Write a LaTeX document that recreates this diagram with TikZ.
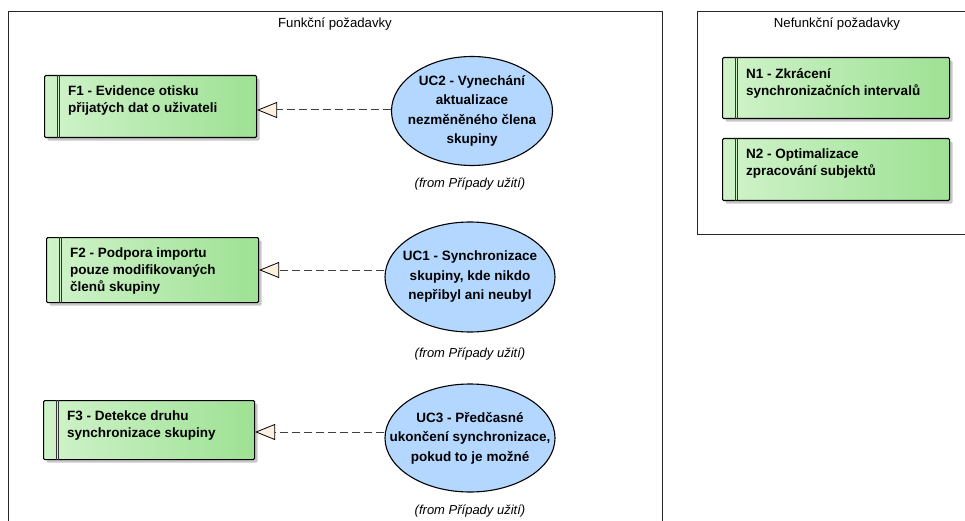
\documentclass[tikz,border=0pt]{standalone}
\usepackage{fontspec}
\setmainfont{Liberation Sans}
\usetikzlibrary{shapes.geometric,arrows.meta,shadows}
\definecolor{gA}{RGB}{208,243,202}
\definecolor{gB}{RGB}{158,225,148}
\definecolor{ucfill}{RGB}{180,215,255}
\definecolor{trifill}{RGB}{253,240,222}
\definecolor{dashcol}{RGB}{64,64,64}
\begin{document}
\begin{tikzpicture}[x=1pt,y=-1pt,
 frame/.style={draw=black!85, line width=0.9pt},
 titletxt/.style={font=\fontsize{13.2}{15}\selectfont, inner sep=0},
 reqbox/.style={draw=black, line width=1.1pt, rounded corners=1.2pt, left color=gA, right color=gB,
   drop shadow={shadow xshift=3pt,shadow yshift=-3pt,fill=black!22,opacity=1}, inner sep=0, anchor=north west},
 reqtext/.style={font=\bfseries\fontsize{13.5}{17}\selectfont, align=left, anchor=north west, inner sep=0},
 strip/.style={draw=black!80, line width=0.7pt},
 uc/.style={ellipse, draw=black, line width=1.1pt, fill=ucfill, inner xsep=-30pt, inner ysep=0pt, align=center,
   font=\bfseries\fontsize{13.5}{19.5}\selectfont},
 fromtxt/.style={font=\itshape\fontsize{13}{15}\selectfont, inner sep=0},
 dep/.style={draw=dashcol, line width=1pt, dash pattern=on 8pt off 4pt,
   -{Triangle[length=20pt,width=16pt,fill=trifill,color=black,line width=0.8pt]}}
]
\useasboundingbox (0,0) rectangle (965,521);
% frames
\draw[frame] (8,530) -- (8,11) -- (662,11) -- (662,530);
\draw[frame] (697,11) rectangle (975,234);
\node[titletxt] (t1) at (335,24) {Funkční požadavky};
\node[titletxt] (t2) at (837,24) {Nefunkční požadavky};

% requirement boxes
\node[reqbox, minimum width=212pt, minimum height=62pt] (f1) at (44,75) {};
\node[reqbox, minimum width=212pt, minimum height=65pt] (f2) at (46,237) {};
\node[reqbox, minimum width=211pt, minimum height=59pt] (f3) at (43,400) {};
\node[reqbox, minimum width=227pt, minimum height=61pt] (n1) at (722,57) {};
\node[reqbox, minimum width=227pt, minimum height=62pt] (n2) at (722,138) {};
\foreach \b in {f1,f2,f3,n1,n2}{
  \draw[strip] ([xshift=13pt]\b.north west) -- ([xshift=13pt]\b.south west);
  \draw[strip] ([xshift=15.5pt]\b.north west) -- ([xshift=15.5pt]\b.south west);
}
\node[reqtext] (f1t) at ([xshift=24pt,yshift=-11pt]f1.north west) {F1 - Evidence otisku\\přijatých dat o uživateli};
\node[reqtext] (f2t) at ([xshift=24pt,yshift=-11pt]f2.north west) {F2 - Podpora importu\\pouze modifikovaných\\členů skupiny};
\node[reqtext] (f3t) at ([xshift=24pt,yshift=-11pt]f3.north west) {F3 - Detekce druhu\\synchronizace skupiny};
\node[reqtext] (n1t) at ([xshift=24pt,yshift=-11pt]n1.north west) {N1 - Zkrácení\\synchronizačních intervalů};
\node[reqtext] (n2t) at ([xshift=24pt,yshift=-11pt]n2.north west) {N2 - Optimalizace\\zpracování subjektů};

% use cases
\node[uc, minimum width=161pt, minimum height=109pt] (uc2) at (472,111) {UC2 - Vynechání\\aktualizace\\nezměněného člena\\skupiny};
\node[uc, minimum width=170pt, minimum height=110pt] (uc1) at (470,277) {UC1 - Synchronizace\\skupiny, kde nikdo\\nepřibyl ani neubyl};
\node[uc, minimum width=170pt, minimum height=108pt] (uc3) at (470,438) {UC3 - Předčasné\\ukončení synchronizace,\\pokud to je možné};
\node[fromtxt] (fr2) at (470,184) {(from Případy užití)};
\node[fromtxt] (fr1) at (470,354) {(from Případy užití)};
\node[fromtxt] (fr3) at (470,511) {(from Případy užití)};

% dependencies
\coordinate (y1) at (0,110);
\coordinate (y2) at (0,270);
\coordinate (y3) at (0,432);
\draw[dep] (uc2.west |- y1) -- (f1.east |- y1);
\draw[dep] (uc1.west |- y2) -- (f2.east |- y2);
\draw[dep] (uc3.west |- y3) -- (f3.east |- y3);
\end{tikzpicture}
\end{document}
